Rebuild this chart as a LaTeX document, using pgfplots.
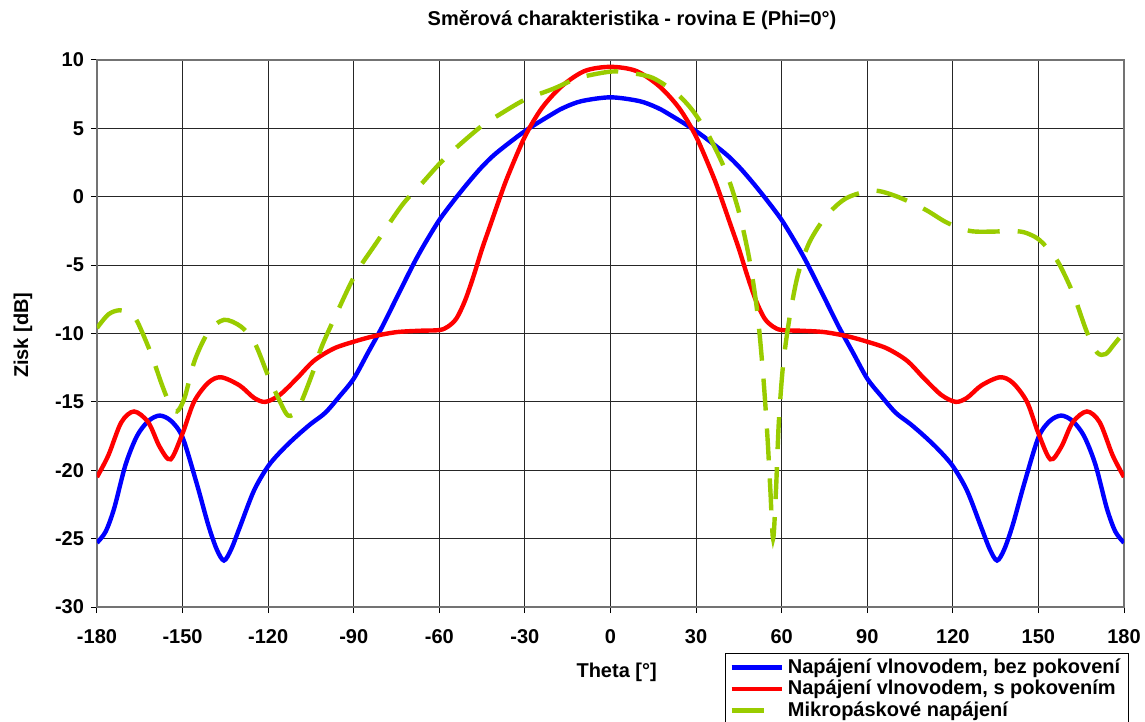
\documentclass[border=0pt]{standalone}
\usepackage{pgfplots}
\pgfplotsset{compat=1.18}
\usepackage{fontspec}
\setmainfont{Liberation Sans}
\definecolor{exgreen}{RGB}{153,204,0}
\definecolor{exblue}{RGB}{0,0,255}
\definecolor{exred}{RGB}{255,0,0}
\begin{document}
\begin{tikzpicture}
\begin{axis}[at={(0,0)}, anchor=south west, scale only axis,
  width=513.5pt, height=273.5pt,
  xmin=-180, xmax=180, ymin=-30, ymax=10,
  xtick={-180,-150,...,180}, ytick={-30,-25,...,10},
  grid=major, major grid style={black!85, line width=0.5pt},
  axis line style={black!55, line width=0.7pt},
  tick align=outside, major tick length=3pt, xtick pos=bottom, ytick pos=left,
  tick style={black, line width=0.5pt},
  /pgf/number format/assume math mode=true,
  ticklabel style={font=\bfseries\fontsize{10}{12}\selectfont},
  xticklabel style={yshift=-4.5pt},
  title={Směrová charakteristika - rovina E (Phi=0°)},
  title style={font=\bfseries\fontsize{10}{12}\selectfont, at={(axis description cs:0.521,1.051)}, anchor=center, yshift=0pt},
  xlabel={Theta [°]},
  xlabel style={font=\bfseries\fontsize{10}{12}\selectfont, at={(axis description cs:0.506,-0.119)}, anchor=center},
  ylabel={Zisk [dB]},
  ylabel style={font=\bfseries\fontsize{10}{12}\selectfont, at={(axis description cs:-0.072,0.497)}, anchor=center, rotate=0},
  legend style={at={(axis description cs:0.6115,-0.0841)}, anchor=north west,
    font=\bfseries\fontsize{10}{11.5}\selectfont, draw=black, line width=0.5pt,
    inner xsep=2pt, inner ysep=0.5pt, row sep=-2pt, cells={anchor=west}},
  legend cell align=left,
  legend image code/.code={\draw[#1, line width=2.2pt] (0pt,0pt) -- (25pt,0pt);},
]
\addplot[exblue, line width=2.2pt, smooth] coordinates {
(-180,-25.3) (-177,-24.5) (-174,-22.8) (-170,-19.6) (-166,-17.5) (-162,-16.4) (-158,-16.0) (-154,-16.4) (-150,-17.6) (-145,-21.0) (-141,-24.0) (-138,-25.8) (-135.5,-26.6) (-133,-25.8) (-130,-24.2) (-125,-21.5) (-120,-19.7) (-115,-18.5) (-110,-17.5) (-105,-16.6) (-100,-15.8) (-95,-14.6) (-90,-13.3) (-85,-11.4) (-80,-9.5) (-75,-7.4) (-69,-4.9) (-65,-3.4) (-60,-1.7) (-55,-0.3) (-50,1.0) (-45,2.2) (-40,3.2) (-30,4.8) (-20,6.1) (-16,6.55) (-10,7.0) (0,7.27)
(10,7.0) (16,6.55) (20,6.1) (30,4.8) (40,3.2) (45,2.2) (50,1.0) (55,-0.3) (60,-1.7) (65,-3.4) (69,-4.9) (75,-7.4) (80,-9.5) (85,-11.4) (90,-13.3) (95,-14.6) (100,-15.8) (105,-16.6) (110,-17.5) (115,-18.5) (120,-19.7) (125,-21.5) (130,-24.2) (133,-25.8) (135.5,-26.6) (138,-25.8) (141,-24.0) (145,-21.0) (150,-17.6) (154,-16.4) (158,-16.0) (162,-16.4) (166,-17.5) (170,-19.6) (174,-22.8) (177,-24.5) (180,-25.3)
};
\addlegendentry{Napájení vlnovodem, bez pokovení}
\addplot[exred, line width=2.2pt, smooth] coordinates {
(-180,-20.5) (-176,-18.9) (-171.5,-16.5) (-167,-15.7) (-162,-16.5) (-158,-18.3) (-154.2,-19.2) (-150,-17.3) (-146,-15.0) (-141,-13.6) (-136.5,-13.2) (-130,-13.8) (-125,-14.7) (-121,-15.0) (-116,-14.5) (-110,-13.3) (-104,-12.0) (-97,-11.1) (-90,-10.6) (-83,-10.2) (-75,-9.9) (-67,-9.8) (-60,-9.75) (-57,-9.5) (-54,-8.9) (-51,-7.6) (-48,-5.8) (-45,-3.8) (-42,-2.0) (-39,-0.2) (-36,1.5) (-30,4.4) (-24,6.5) (-17,8.1) (-9,9.2) (0,9.5)
(9,9.2) (17,8.1) (24,6.5) (30,4.4) (36,1.5) (39,-0.2) (42,-2.0) (45,-3.8) (48,-5.8) (51,-7.6) (54,-8.9) (57,-9.5) (60,-9.75) (67,-9.8) (75,-9.9) (83,-10.2) (90,-10.6) (97,-11.1) (104,-12.0) (110,-13.3) (116,-14.5) (121,-15.0) (125,-14.7) (130,-13.8) (136.5,-13.2) (141,-13.6) (146,-15.0) (150,-17.3) (154.2,-19.2) (158,-18.3) (162,-16.5) (167,-15.7) (171.5,-16.5) (176,-18.9) (180,-20.5)
};
\addlegendentry{Napájení vlnovodem, s pokovením}
\addplot[exgreen, line width=2.2pt, smooth, dash pattern=on 16pt off 9pt] coordinates {
(-180,-9.6) (-176,-8.6) (-172,-8.3) (-168,-8.6) (-165.7,-9.2) (-161,-11.5) (-157.5,-13.6) (-154.6,-15.1) (-152,-15.7) (-149.3,-14.7) (-145.8,-12.0) (-141,-9.9) (-135.5,-9.0) (-129.5,-9.5) (-124.7,-10.7) (-120,-13.1) (-116.5,-14.7) (-113,-16.0) (-109.5,-15.5) (-104.8,-13.1) (-101.3,-11.0) (-96.6,-8.8) (-89.5,-5.7) (-82.5,-3.5) (-73,-0.6) (-66,1.0) (-60,2.4) (-54,3.6) (-45,5.2) (-39,6.0) (-30,7.1) (-20,7.9) (-11,8.7) (0,9.15) (6.5,9.07) (14.7,8.7) (22.9,7.6) (28.8,6.3) (34.6,4.4) (40.5,1.8) (45,-1.1) (48.7,-4.6) (51.5,-8.5) (53.5,-13) (55,-17.5) (56,-21.3) (57,-25) (58,-21.5) (59,-16.5) (60.5,-12.3) (62.8,-8.8) (65.7,-5.7) (69.8,-3.3) (75.7,-1.4) (82.7,-0.1) (92,0.45) (100,0.05) (110,-0.9) (118,-1.9) (126,-2.5) (134,-2.55) (140,-2.5) (145,-2.6) (150,-3.1) (155,-4.2) (158,-5.2) (162.4,-7.2) (167,-9.9) (170.6,-11.4) (173.6,-11.5) (176.5,-10.8) (180,-9.9)
};
\addlegendentry{Mikropáskové napájení}
\end{axis}
\pgfresetboundingbox
\path[use as bounding box] (-48.5pt,-57.5pt) rectangle (524pt,303.5pt);
\end{tikzpicture}
\end{document}
